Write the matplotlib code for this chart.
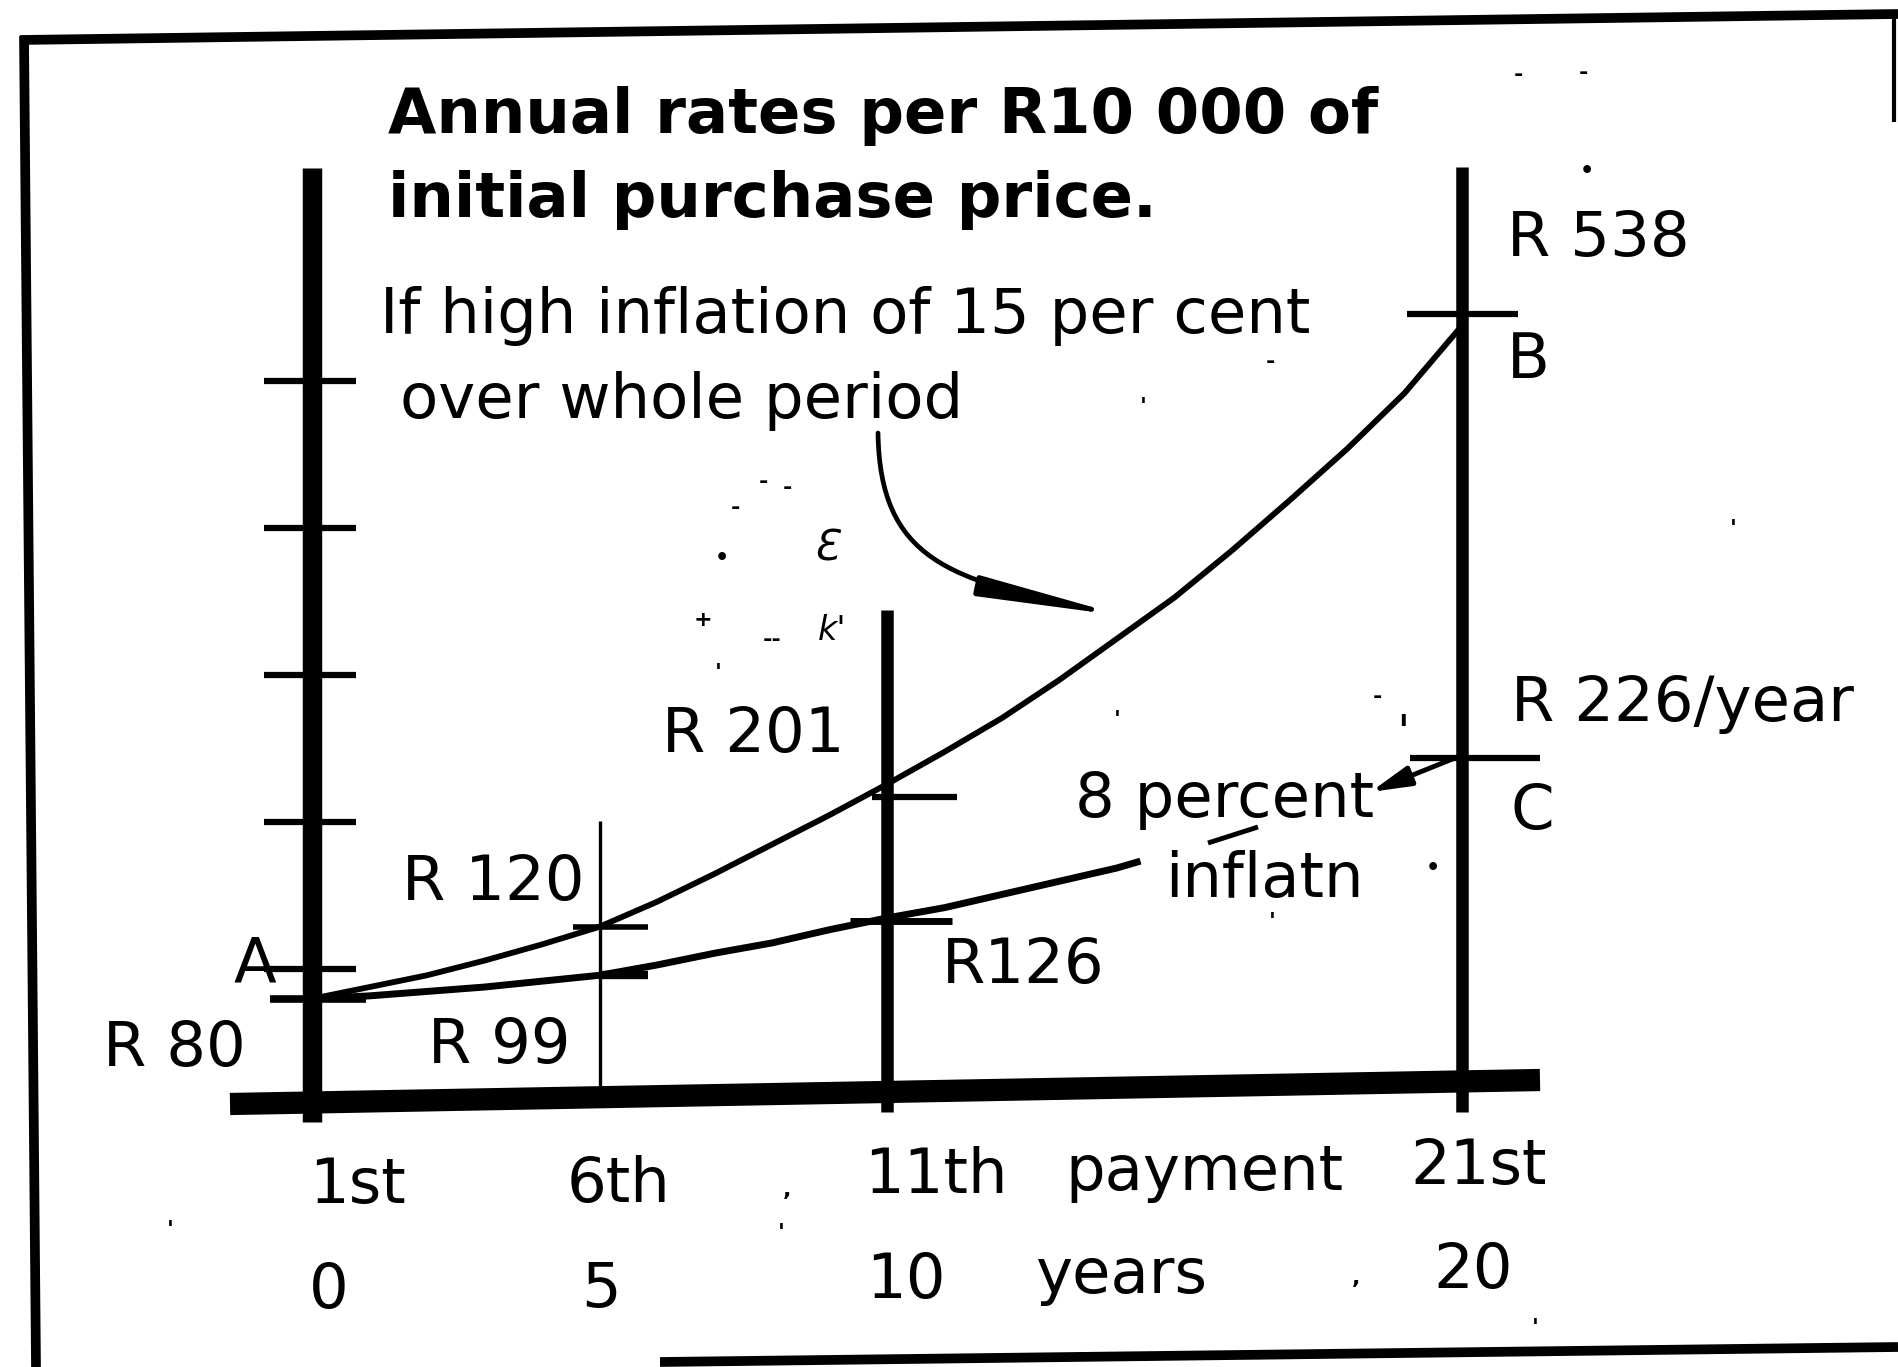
import matplotlib.pyplot as plt
from matplotlib.lines import Line2D
from matplotlib.path import Path
from matplotlib.patches import FancyArrowPatch

# -------------------------------------------------
# values (rand per R10 000, by year)
# -------------------------------------------------
years_high = list(range(21))
rates_high = [80, 88, 96, 106, 117, 129, 146, 165, 185, 205, 226,
              248, 271, 297, 325, 353, 385, 419, 454, 492, 538]

years_low = list(range(15)) + [14.35]
rates_low = [80, 82, 85, 88, 92, 96, 103, 111, 118, 127, 135,
             142, 151, 160, 169, 173]

end_year = 20
end_rate_high = 546   # mark B
end_rate_low = 244    # mark C

start_rate = 80
scale_ticks = [100, 200, 300, 400, 500]

payment_years = [0, 5, 10, 20]
payment_labels = ["1st", "6th", "11th", "21st"]
year_labels = ["0", "5", "10", "20"]

# -------------------------------------------------
# canvas / scale (sketch pixels -> data)
# -------------------------------------------------
W, H = 1898, 1367
X0_PX, PX_PER_YEAR = 312, 57.5
Y0_PX, PX_PER_RAND = 1116.4, 1.47

def fxy(x, y):
    return x / W, 1 - y / H

def px_year(x):
    return (x - X0_PX) / PX_PER_YEAR

def px_rand(y):
    return (Y0_PX - y) / PX_PER_RAND

fig = plt.figure(figsize=(W / 100, H / 100), dpi=100)
ax = fig.add_axes([0, 0, 1, 1])
ax.set_xlim(px_year(0), px_year(W))
ax.set_ylim(px_rand(H), px_rand(0))
ax.axis("off")

K = "black"

def fline(p0, p1, lw, **kw):
    (x0, y0), (x1, y1) = fxy(*p0), fxy(*p1)
    fig.add_artist(Line2D([x0, x1], [y0, y1], color=K, lw=lw,
                          solid_capstyle="butt", **kw))

# frame
fline((20, 40), (1898, 14), 7)
fline((24, 36), (36, 1367), 7)
fline((660, 1362), (1898, 1347), 7)
fline((1894, 12), (1894, 122), 3)

# base line of the graph
fline((230, 1104), (1540, 1080), 16)

# payment verticals
ax.plot([payment_years[0]] * 2, [px_rand(168), px_rand(1122)], color=K, lw=14, solid_capstyle="butt")
ax.plot([payment_years[1]] * 2, [px_rand(821), px_rand(1092)], color=K, lw=2.4, solid_capstyle="butt")
ax.plot([payment_years[2]] * 2, [px_rand(610), px_rand(1112)], color=K, lw=9, solid_capstyle="butt")
ax.plot([payment_years[3]] * 2, [px_rand(167), px_rand(1112)], color=K, lw=9, solid_capstyle="butt")

# scale ticks on the left axis
for r in scale_ticks:
    ax.plot([px_year(264), px_year(356)], [r, r], color=K, lw=4.5, solid_capstyle="butt")
ax.plot([px_year(270), px_year(366)], [start_rate, start_rate], color=K, lw=5.5,
        solid_capstyle="butt")

# the two rate curves
ax.plot(years_high, rates_high, color=K, lw=4.2, solid_joinstyle="round")
ax.plot(years_low, rates_low, color=K, lw=5.0, solid_joinstyle="round")

# point marks
ax.plot([px_year(573), px_year(648)], [rates_high[5]] * 2, color=K, lw=4, solid_capstyle="butt")
ax.plot([px_year(600), px_year(648)], [rates_low[5]] * 2, color=K, lw=6, solid_capstyle="butt")
ax.plot([px_year(872), px_year(957)], [rates_high[10] - 9] * 2, color=K, lw=4.5, solid_capstyle="butt")
ax.plot([px_year(850), px_year(952)], [rates_low[10] - 2] * 2, color=K, lw=5, solid_capstyle="butt")
ax.plot([px_year(1407), px_year(1518)], [end_rate_high] * 2, color=K, lw=4.5, solid_capstyle="butt")
ax.plot([px_year(1410), px_year(1540)], [end_rate_low] * 2, color=K, lw=4.5, solid_capstyle="butt")

# -------------------------------------------------
# text
# -------------------------------------------------
def ftext(x, y, s, size=45, **kw):
    fx, fy = fxy(x, y)
    fig.text(fx, fy, s, fontsize=size, color=K, ha=kw.pop("ha", "left"),
             va=kw.pop("va", "baseline"), **kw)

ftext(388, 133, "Annual rates per R10 000 of", 45, weight="bold")
ftext(388, 217, "initial purchase price.", 45, weight="bold")

ftext(380, 333, "If high inflation of 15 per cent")
ftext(400, 418, "over whole period")
ftext(1507, 256, "R 538")
ftext(1507, 378, "B")
ftext(662, 752, "R 201")
ftext(402, 900, "R 120")
ftext(234, 983, "A")
ftext(103, 1066, "R 80")
ftext(428, 1063, "R 99")
ftext(942, 983, "R126")
ftext(1075, 817, "8 percent")
ftext(1165, 897, "inflatn")
ftext(1511, 721, "R 226/year")
ftext(1511, 829, "C")

pay_x = [309, 567, 864, 1410]
pay_y = [1203, 1202, 1193, 1184]
for lab, x, y in zip(payment_labels, pay_x, pay_y):
    ftext(x, y, lab)
ftext(1065, 1190, "payment")

yr_x = [309, 581, 866, 1433]
yr_y = [1308, 1307, 1298, 1288]
for lab, x, y in zip(year_labels, yr_x, yr_y):
    ftext(x, y, lab)
ftext(1035, 1293, "years")

# -------------------------------------------------
# arrows
# -------------------------------------------------
curve = Path([fxy(878, 433), fxy(880, 560), fxy(950, 580), fxy(1124, 616)],
             [Path.MOVETO, Path.CURVE4, Path.CURVE4, Path.CURVE4])
fig.add_artist(FancyArrowPatch(path=curve, transform=fig.transFigure,
                               arrowstyle="-|>,head_length=2.1,head_width=0.15",
                               mutation_scale=40, color=K, lw=3.4,
                               shrinkA=0, shrinkB=0))

fig.add_artist(FancyArrowPatch(fxy(1455, 758), fxy(1368, 793), transform=fig.transFigure,
                               arrowstyle="-|>,head_length=0.8,head_width=0.2",
                               mutation_scale=30, color=K, lw=3.5))

# pen stroke under "percent"
fline((1208, 843), (1258, 827), 3.5)

# -------------------------------------------------
# scan specks
# -------------------------------------------------
specks = [(1518, 75, "-"), (1583, 73, "-"), (1587, 171, "•"), (1143, 407, "'"),
          (1270, 362, "-"), (1117, 720, "'"), (1377, 697, "-"), (1403, 720, "ı"),
          (1733, 529, "'"), (1433, 868, "•"), (1272, 922, "'"), (787, 1190, ","),
          (781, 1233, "'"), (170, 1230, "'"), (1356, 1278, ","), (1535, 1328, "'"),
          (763, 482, "-"), (787, 488, "-"), (735, 508, "-"), (722, 558, "•"),
          (703, 620, "+"), (772, 640, "--"), (718, 673, "'")]
for x, y, s in specks:
    ftext(x, y, s, 16, ha="center", va="center", weight="bold")
ftext(826, 548, "Ɛ", 30, ha="center", va="center", style="italic")
ftext(832, 630, "k'", 24, ha="center", va="center", style="italic")

fig.savefig("out.png", dpi=100, facecolor="white")
